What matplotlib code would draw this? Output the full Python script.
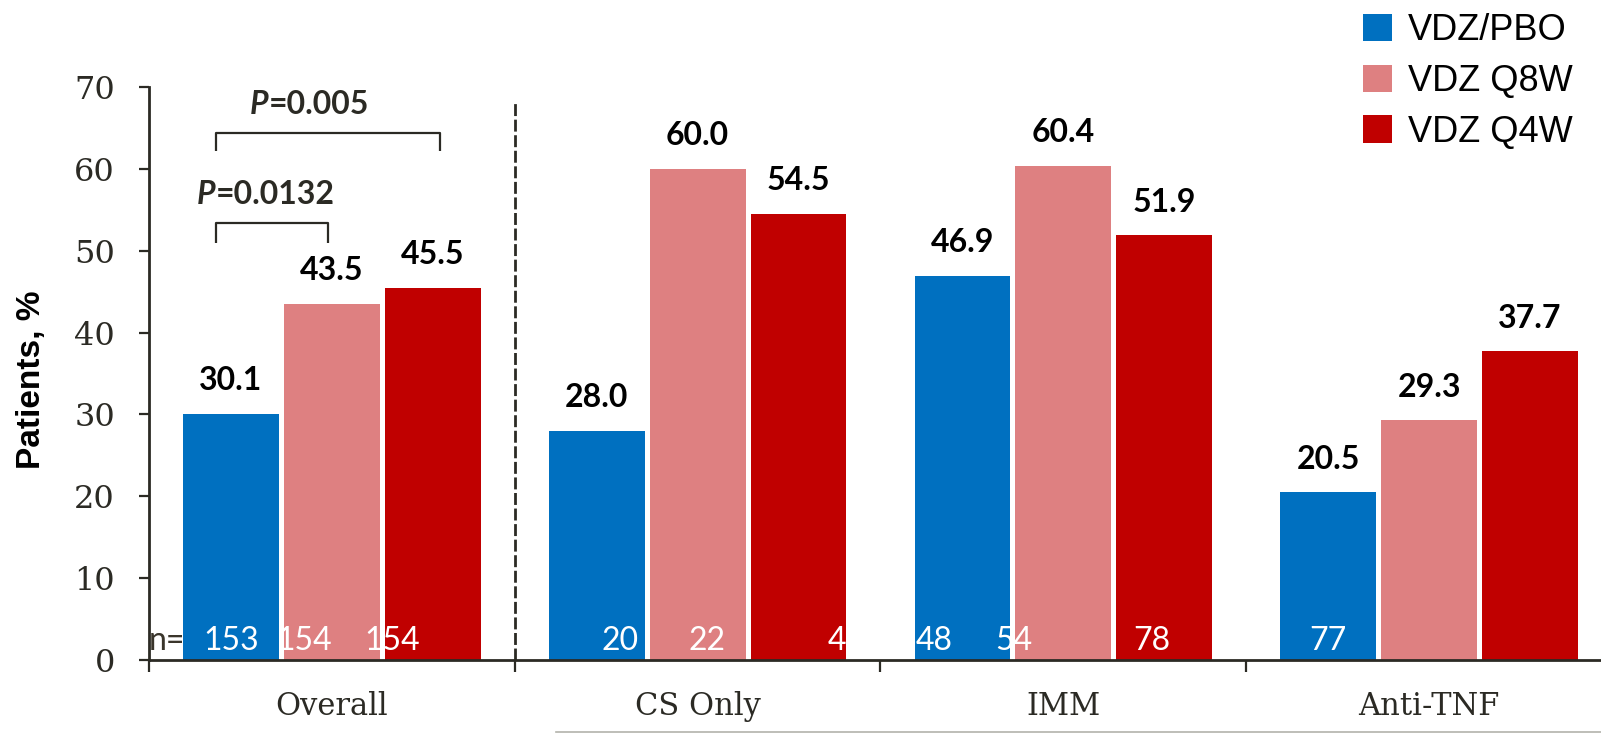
import matplotlib
matplotlib.use("Agg")
import matplotlib.pyplot as plt
from matplotlib.lines import Line2D

# ---- data ----
categories = ["Overall", "CS Only", "IMM", "Anti-TNF"]
series_names = ["VDZ/PBO", "VDZ Q8W", "VDZ Q4W"]
vdz_pbo = [30.1, 28.0, 46.9, 20.5]
vdz_q8w = [43.5, 60.0, 60.4, 29.3]
vdz_q4w = [45.5, 54.5, 51.9, 37.7]
n_pbo = ["153", "20", "48", "77"]
n_q8w = ["154", "22", "54", ""]
n_q4w = ["154", "4", "78", ""]
p_overall_q8w = "0.0132"
p_overall_q4w = "0.005"
y_ticks = [0, 10, 20, 30, 40, 50, 60, 70]

# ---- style ----
colors = ["#0070C0", "#DE8081", "#C00000"]
dark = "#2b2a24"
W, H, DPI = 1601, 733, 100
bar_w = 0.262
step = 0.276

fig = plt.figure(figsize=(W / DPI, H / DPI), dpi=DPI)
ax = fig.add_axes([149 / W, 1 - 660 / H, 1 - 149 / W, (660 - 87) / H])

series = [vdz_pbo, vdz_q8w, vdz_q4w]
n_series = [n_pbo, n_q8w, n_q4w]
# horizontal nudges for the white n-counts, in category units
n_shift = [[0.0, 0.063, -0.078, 0.0],
           [-0.077, 0.025, -0.135, 0.0],
           [-0.11, 0.104, -0.035, 0.0]]

xs = list(range(len(categories)))
containers = []
for j, (vals, name) in enumerate(zip(series, series_names)):
    pos = [x + (j - 1) * step for x in xs]
    bc = ax.bar(pos, vals, width=bar_w, color=colors[j], label=name, zorder=2)
    containers.append(bc)
    for p, v in zip(pos, vals):
        ax.annotate(f"{v:.1f}", (p, v), xytext=(0, 17), textcoords="offset points",
                    ha="center", va="baseline", fontsize=23, fontweight="bold",
                    family="Lato", color="black")
    for p, lab, dx in zip(pos, n_series[j], n_shift[j]):
        if lab:
            ax.text(p + dx, 1.2, lab, ha="center", va="baseline", fontsize=23,
                    family="Lato", color="white", zorder=3)

ax.text(-0.5, 1.2, "n=", ha="left", va="baseline", fontsize=23, family="Lato",
        color="#3a352b", zorder=3)

# significance brackets on the Overall group
def bracket(x0, x1, y_top, y_low, text_x, label):
    ax.plot([x0, x0, x1, x1], [y_low, y_top, y_top, y_low], color=dark, lw=1.6,
            solid_capstyle="butt", clip_on=False, zorder=3)
    ty = y_top + 1.75
    pt = ax.text(text_x, ty, "P", ha="left", va="bottom", fontsize=23,
                 fontweight="bold", style="italic", family="Lato", color=dark)
    ax.annotate("=" + label, xy=(1, 0), xycoords=pt, ha="left", va="bottom",
                fontsize=23, fontweight="bold", family="Lato", color=dark)

bracket(-step - 0.04, -0.01, 53.4, 51.0, -0.369, p_overall_q8w)
bracket(-step - 0.04, step + 0.02, 64.4, 62.2, -0.224, p_overall_q4w)

# dashed separator between Overall and subgroups
ax.plot([0.5, 0.5], [0, 68.4], color=dark, lw=2.0, linestyle=(0, (4.3, 1.3)),
        zorder=1)

# axes styling
ax.set_xlim(-0.5, 3.47)
ax.set_ylim(0, 70)
for s in ["top", "right"]:
    ax.spines[s].set_visible(False)
for s in ["left", "bottom"]:
    ax.spines[s].set_color(dark)
    ax.spines[s].set_linewidth(2.0)

ax.set_yticks(y_ticks)
ax.set_yticklabels([str(t) for t in y_ticks], family="DejaVu Serif", fontsize=23,
                   color=dark)
ax.tick_params(axis="y", direction="out", length=7.5, width=1.6, color=dark, pad=17)

ax.set_xticks([-0.5, 0.5, 1.5, 2.5])
ax.set_xticklabels([])
ax.set_xticks(xs, minor=True)
ax.set_xticklabels(categories, minor=True, family="DejaVu Serif", fontsize=22,
                   color=dark)
ax.tick_params(axis="x", which="major", direction="out", length=8.5, width=1.6,
               color=dark)
ax.tick_params(axis="x", which="minor", length=0, pad=22)

ax.set_ylabel("Patients, %", family="Liberation Sans", fontweight="bold",
              fontsize=24, color="black", va="center")
ax.yaxis.set_label_coords(-0.081, 0.489)

# legend
ax.legend(handles=containers, loc="upper left", frameon=False,
          bbox_to_anchor=(1363 / W, 1 - 13 / H), bbox_transform=fig.transFigure,
          prop={"family": "Liberation Sans", "size": 26},
          handlelength=0.80, handleheight=0.80, handletextpad=0.44,
          labelspacing=0.44, borderpad=0, borderaxespad=0)

# thin rule under the subgroup labels
fig.add_artist(Line2D([556 / W, 1.0], [1 - 731.5 / H, 1 - 731.5 / H],
                      transform=fig.transFigure, color="#b3b3ab", lw=1.2))

fig.savefig("out.png", dpi=DPI)
